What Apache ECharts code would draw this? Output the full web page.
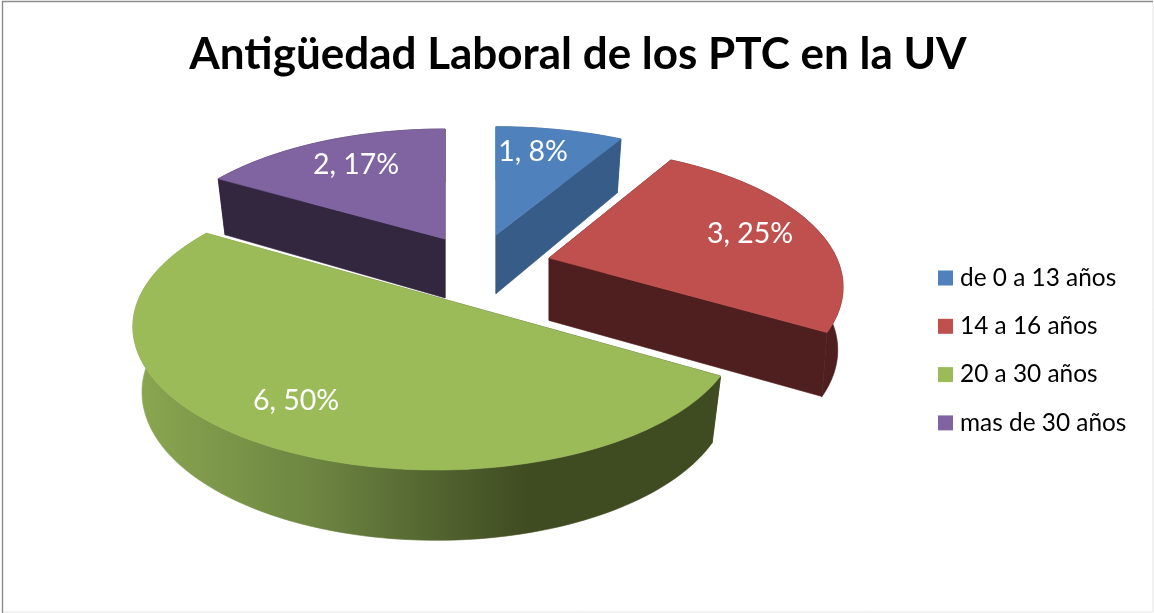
<!DOCTYPE html>
<html>
<head>
<meta charset="utf-8">
<style>html,body{margin:0;padding:0;background:#fff}#chart{width:1154px;height:613px}</style>
<script src="https://cdn.jsdelivr.net/npm/echarts@6/dist/echarts.min.js"></script>
</head>
<body>
<div id="chart"></div>
<script>
var titleText = 'Antigüedad Laboral de los PTC en la UV';
var categories = ['de 0 a 13 años', '14 a 16 años', '20 a 30 años', 'mas de 30 años'];
var values = [1, 3, 6, 2];

// styles
var topColors = ['#4F81BD', '#C0504D', '#9BBB59', '#8064A2'];
var wallColors = ['#375C87', '#4F1E1E', null, '#32273F'];
// layout: apex of each exploded slice, label offset from that apex
var apexX = [496, 549, 436, 445];
var apexY = [235, 258, 297, 239];
var scaleX = [1, 0.975, 1.005, 0.98];
var scaleY = [0.955, 0.975, 1, 0.97];
var angleShift = [0, 0, 1, 0];
var depth = [60, 62.5, 63, 60];
var depthSlope = [0.05, 0.02, 0.035, 0.05];
var lowerScale = [0.97, 0.982, 0.97, 0.97];
var labelDX = [37, 201, -140, -89];
var labelDY = [-83, -24, 104, -74];
var drawOrder = [3, 0, 1, 2];
// projection of the tilted disc
var RX = 295, RY = 137, PERSP = 0.208;
var total = values.reduce(function (a, b) { return a + b; }, 0);

function rim(i, deg) {
  var t = (deg + angleShift[i]) * Math.PI / 180, u = Math.sin(t), v = Math.cos(t), w = 1 + PERSP * v;
  return [apexX[i] + scaleX[i] * RX * u / w, apexY[i] - scaleY[i] * RY * v / w];
}
function lower(i, p) {
  return [apexX[i] + lowerScale[i] * (p[0] - apexX[i]), p[1] + depth[i] + depthSlope[i] * (p[1] - 260)];
}
function startDeg(i) {
  var s = 0;
  for (var k = 0; k < i; k++) s += values[k];
  return s / total * 360;
}
function poly(points, fill) {
  return { type: 'polygon', shape: { points: points }, style: { fill: fill, stroke: fill, lineWidth: 0.6 } };
}
var greenWall = new echarts.graphic.LinearGradient(140, 0, 530, 0, [
  { offset: 0, color: '#89A650' },
  { offset: 0.45, color: '#6D8541' },
  { offset: 0.75, color: '#536530' },
  { offset: 1, color: '#3F4B20' }
], true);

function makeRender(i) {
  return function (params, api) {
    var value = api.value(0);
    var a0 = startDeg(i), a1 = a0 + value / total * 360;
    var apex = [apexX[i], apexY[i]], apexLow = lower(i, apex);
    var arc = [];
    for (var d = a0; d < a1; d += 1.5) arc.push(rim(i, d));
    arc.push(rim(i, a1));
    var arcLow = arc.map(function (p) { return lower(i, p); });
    var wall = wallColors[i] || greenWall;
    var first = arc[0], last = arc[arc.length - 1];
    return {
      type: 'group',
      children: [
        poly([apex, first, lower(i, first), apexLow], wall),
        poly(arc.concat(arcLow.slice().reverse()), wall),
        poly([apex, last, lower(i, last), apexLow], wall),
        poly([apex].concat(arc), topColors[i]),
        {
          type: 'text',
          style: {
            x: apex[0] + labelDX[i], y: apex[1] + labelDY[i],
            text: value + ', ' + Math.round(value / total * 100) + '%',
            fill: '#fff', font: '28.5px Lato', align: 'center', verticalAlign: 'middle'
          }
        }
      ]
    };
  };
}

var chart = echarts.init(document.getElementById('chart'), null, { renderer: 'canvas' });
chart.setOption({
  animation: false,
  backgroundColor: '#fff',
  title: {
    text: titleText, left: 573, top: 28, textAlign: 'center',
    textStyle: { fontFamily: 'Lato', fontWeight: 'bold', fontSize: 44, color: '#000' }
  },
  legend: {
    data: categories, orient: 'vertical', left: 933, top: 261,
    icon: 'rect', itemWidth: 15, itemHeight: 15, itemGap: 24.3, selectedMode: false,
    textStyle: { fontFamily: 'Lato', fontSize: 24.4, color: '#000', lineHeight: 24, padding: [0, 0, 0, 2] }
  },
  graphic: [
    { type: 'rect', silent: true, z: -1, shape: { x: 2.5, y: 1.5, width: 1150.5, height: 610.5 },
      style: { fill: 'none', stroke: '#e4e4e4', lineWidth: 1 } },
    { type: 'polyline', silent: true, z: 0, shape: { points: [[2.5, 613], [2.5, 1.5], [1153, 1.5]] },
      style: { fill: 'none', stroke: '#8c8c8c', lineWidth: 1.4 } }
  ],
  series: drawOrder.map(function (i) {
    return {
      type: 'custom', name: categories[i], coordinateSystem: 'none',
      itemStyle: { color: topColors[i] },
      data: [[values[i]]], renderItem: makeRender(i)
    };
  })
});
</script>
</body>
</html>
